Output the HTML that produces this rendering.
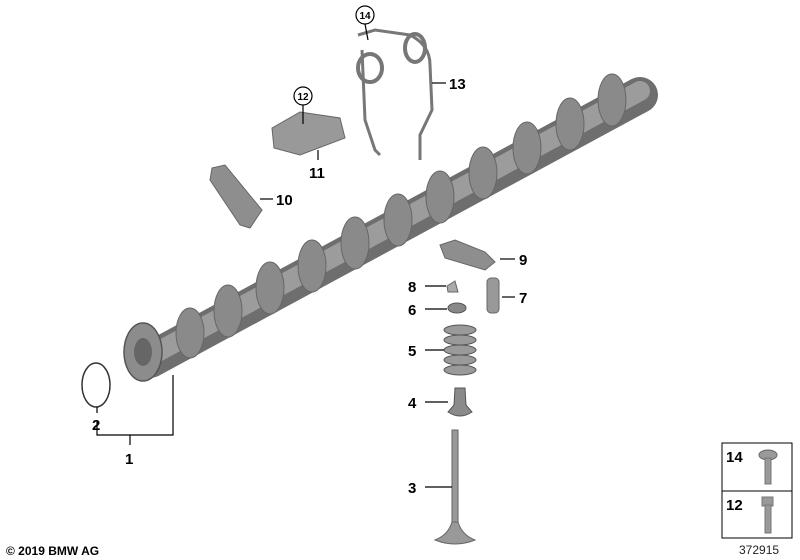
<!DOCTYPE html>
<html><head><style>
html,body{margin:0;padding:0;background:#fff;}
svg{display:block;font-family:"Liberation Sans",sans-serif;}
.l{font-weight:bold;font-size:15px;fill:#000;}
</style></head><body>
<svg width="800" height="560" viewBox="0 0 800 560">
<!-- camshaft -->
<g stroke-linecap="round">
<line x1="150" y1="360" x2="640" y2="95" stroke="#6e6e6e" stroke-width="36"/>
<line x1="150" y1="356" x2="640" y2="91" stroke="#9c9c9c" stroke-width="20"/>
</g>
<g fill="#8a8a8a" stroke="#666" stroke-width="1">
<ellipse cx="190" cy="333" rx="14" ry="25"/>
<ellipse cx="228" cy="311" rx="14" ry="26"/>
<ellipse cx="270" cy="288" rx="14" ry="26"/>
<ellipse cx="312" cy="266" rx="14" ry="26"/>
<ellipse cx="355" cy="243" rx="14" ry="26"/>
<ellipse cx="398" cy="220" rx="14" ry="26"/>
<ellipse cx="440" cy="197" rx="14" ry="26"/>
<ellipse cx="483" cy="173" rx="14" ry="26"/>
<ellipse cx="527" cy="148" rx="14" ry="26"/>
<ellipse cx="570" cy="124" rx="14" ry="26"/>
<ellipse cx="612" cy="100" rx="14" ry="26"/>
</g>
<ellipse cx="143" cy="352" rx="19" ry="29" fill="#8c8c8c" stroke="#555" stroke-width="1.5"/>
<ellipse cx="143" cy="352" rx="9" ry="14" fill="#666"/>
<!-- o-ring -->
<ellipse cx="96" cy="385" rx="14" ry="22" fill="none" stroke="#333" stroke-width="1.5"/>
<!-- small parts -->
<path d="M272 128 L300 112 L340 118 L345 138 L300 155 L274 148 Z" fill="#999" stroke="#666"/>
<path d="M212 168 L225 165 L262 210 L250 228 L240 225 L210 180 Z" fill="#8e8e8e" stroke="#666"/>
<path d="M358 35 L375 30 L410 35 Q430 45 430 65 L432 110 L420 135 L420 160" fill="none" stroke="#777" stroke-width="3"/>
<path d="M362 50 L365 120 L375 150 L380 155" fill="none" stroke="#777" stroke-width="3"/>
<ellipse cx="370" cy="68" rx="12" ry="14" fill="none" stroke="#777" stroke-width="4"/>
<ellipse cx="415" cy="48" rx="10" ry="14" fill="none" stroke="#777" stroke-width="4"/>
<path d="M440 245 L455 240 L485 252 L495 262 L485 270 L445 258 Z" fill="#8e8e8e" stroke="#666"/>
<path d="M447 286 L455 281 L458 292 L448 292 Z" fill="#aaa" stroke="#666"/>
<rect x="487" y="278" width="12" height="35" rx="4" fill="#999" stroke="#666"/>
<ellipse cx="457" cy="308" rx="9" ry="5" fill="#888" stroke="#555"/>
<g fill="#9a9a9a" stroke="#555">
<ellipse cx="460" cy="330" rx="16" ry="5"/><ellipse cx="460" cy="340" rx="16" ry="5"/>
<ellipse cx="460" cy="350" rx="16" ry="5"/><ellipse cx="460" cy="360" rx="16" ry="5"/>
<ellipse cx="460" cy="370" rx="16" ry="5"/>
</g>
<path d="M455 388 L465 388 L466 405 L472 412 Q460 420 448 412 L454 405 Z" fill="#8a8a8a" stroke="#555"/>
<rect x="452" y="430" width="6" height="95" fill="#999" stroke="#666"/>
<path d="M452 522 L458 522 Q462 535 475 540 Q455 548 435 540 Q448 535 452 522Z" fill="#999" stroke="#666"/>
<!-- leaders -->
<g stroke="#000" stroke-width="1.2" fill="none">
<path d="M97 420 V435 H173 V375"/><line x1="130" y1="435" x2="130" y2="445"/>
<line x1="97" y1="407" x2="97" y2="413"/>
<line x1="425" y1="487" x2="452" y2="487"/>
<line x1="425" y1="402" x2="448" y2="402"/>
<line x1="425" y1="350" x2="444" y2="350"/>
<line x1="425" y1="309" x2="447" y2="309"/>
<line x1="425" y1="286" x2="446" y2="286"/>
<line x1="502" y1="297" x2="515" y2="297"/>
<line x1="500" y1="259" x2="515" y2="259"/>
<line x1="260" y1="199" x2="273" y2="199"/>
<line x1="318" y1="150" x2="318" y2="160"/>
<line x1="303" y1="105" x2="303" y2="124"/>
<line x1="432" y1="83" x2="446" y2="83"/>
<line x1="365" y1="24" x2="368" y2="40"/>
<circle cx="303" cy="96" r="9"/>
<circle cx="365" cy="15" r="9"/>
</g>
<text class="l" x="125" y="464">1</text>
<text class="l" x="92" y="430">2</text>
<text class="l" x="408" y="493">3</text>
<text class="l" x="408" y="408">4</text>
<text class="l" x="408" y="356">5</text>
<text class="l" x="408" y="315">6</text>
<text class="l" x="408" y="292">8</text>
<text class="l" x="519" y="303">7</text>
<text class="l" x="519" y="265">9</text>
<text class="l" x="276" y="205">10</text>
<text class="l" x="309" y="178">11</text>
<text class="l" x="449" y="89">13</text>
<text x="303" y="100" font-size="10" font-weight="bold" text-anchor="middle">12</text>
<text x="365" y="19" font-size="10" font-weight="bold" text-anchor="middle">14</text>
<!-- legend box -->
<rect x="722" y="443" width="70" height="95" fill="#fff" stroke="#000"/>
<line x1="722" y1="491" x2="792" y2="491" stroke="#000"/>
<text x="726" y="462" font-size="15" font-weight="bold">14</text>
<text x="726" y="510" font-size="15" font-weight="bold">12</text>
<ellipse cx="768" cy="455" rx="9" ry="5" fill="#9a9a9a" stroke="#666"/>
<rect x="765" y="458" width="6" height="26" fill="#999" stroke="#777"/>
<rect x="762" y="497" width="11" height="9" fill="#999" stroke="#777"/>
<rect x="765" y="505" width="6" height="28" fill="#999" stroke="#777"/>
<text x="739" y="554" font-size="12" fill="#222">372915</text>
<text x="6" y="555" font-size="12" font-weight="bold" fill="#000">© 2019 BMW AG</text>
</svg>
</body></html>
